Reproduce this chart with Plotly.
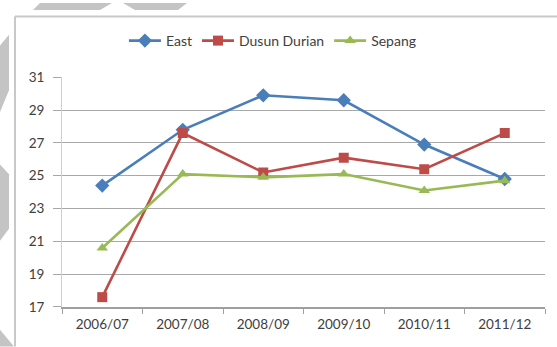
import plotly.graph_objects as go

# Seasonal values per site
seasons = ["2006/07", "2007/08", "2008/09", "2009/10", "2010/11", "2011/12"]
east = [24.4, 27.8, 29.9, 29.6, 26.9, 24.8]
dusun_durian = [17.6, 27.6, 25.2, 26.1, 25.4, 27.6]
sepang = [20.6, 25.1, 24.9, 25.1, 24.1, 24.7]
y_ticks = [17, 19, 21, 23, 25, 27, 29, 31]

W, H = 557, 347
ML, MR, MT, MB = 62, 12, 75, 40
PW, PH = W - ML - MR, H - MT - MB


def px(x):
    return (x - ML) / PW


def py(y):
    return (H - MB - y) / PH


def poly(points):
    return "M " + " L ".join(f"{px(a):.5f},{py(b):.5f}" for a, b in points) + " Z"


series = [
    ("East", east, "#4A7EBB", "diamond", 11),
    ("Dusun Durian", dusun_durian, "#BE4B48", "square", 10),
    ("Sepang", sepang, "#98B954", "triangle-up", 10),
]

fig = go.Figure()
for name, vals, color, sym, size in series:
    fig.add_trace(go.Scatter(
        x=seasons, y=vals, name=name, mode="lines+markers",
        line=dict(color=color, width=2.6),
        marker=dict(symbol=sym, size=size, color=color, line=dict(width=0)),
    ))

shapes = []
# grey background motifs around the chart frame
for pts in [
    [(40, 0), (112, 0), (100, 7), (33, 7)],
    [(123, 0), (187, 0), (178, 7), (135, 7)],
    [(0, 43), (9, 32), (9, 88), (0, 110)],
    [(0, 163), (9, 173), (9, 228), (0, 240)],
    [(0, 330), (14, 347), (0, 347)],
]:
    shapes.append(dict(type="path", xref="paper", yref="paper", path=poly(pts),
                       fillcolor="#C4C4C4", line=dict(width=0), layer="below"))
# chart frame edges
shapes.append(dict(type="line", xref="paper", yref="paper",
                   x0=px(15), x1=px(557), y0=py(13.5), y1=py(13.5),
                   line=dict(color="#C8C8C8", width=2)))
shapes.append(dict(type="line", xref="paper", yref="paper",
                   x0=px(15), x1=px(15), y0=py(13.5), y1=py(347),
                   line=dict(color="#C8C8C8", width=2)))

fig.update_layout(
    width=W, height=H,
    margin=dict(l=ML, r=MR, t=MT, b=MB, pad=0),
    paper_bgcolor="white", plot_bgcolor="white",
    font=dict(family="Lato, Open Sans, sans-serif", size=13, color="#404040"),
    showlegend=True,
    legend=dict(orientation="h", xref="container", yref="container",
                x=0.49, xanchor="center", y=1 - 41 / H, yanchor="middle",
                font=dict(size=14, color="#404040"), itemwidth=32,
                bgcolor="rgba(0,0,0,0)"),
    shapes=shapes,
    xaxis=dict(
        type="category", tickson="boundaries", ticks="outside", ticklen=5,
        tickcolor="#A0A0A0", showline=True, linecolor="#A0A0A0", linewidth=1.5,
        showgrid=False, tickfont=dict(size=13.5, color="#404040"),
        ticklabelstandoff=4, range=[-0.5, 5.5], fixedrange=True,
    ),
    yaxis=dict(
        range=[17, 31], tickvals=y_ticks, ticks="outside", ticklen=8,
        tickcolor="#A8A8A8", showline=True, linecolor="#D0D0D0", linewidth=1,
        showgrid=True, gridcolor="#A8A8A8", gridwidth=1.3, zeroline=False,
        tickfont=dict(size=13.5, color="#404040"), ticklabelstandoff=6,
        fixedrange=True,
    ),
)

fig.write_html("out.html")
